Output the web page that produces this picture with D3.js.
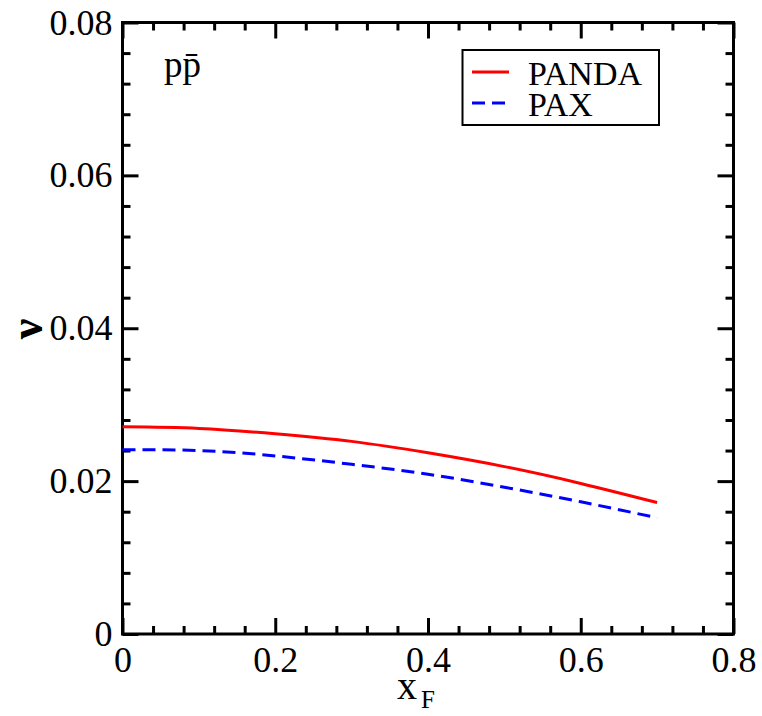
<!DOCTYPE html>
<html><head><meta charset="utf-8">
<script src="https://cdn.jsdelivr.net/npm/d3@7/dist/d3.min.js"></script>
<style>body{margin:0;background:#fff}svg{display:block}text{font-family:'Liberation Serif','Times New Roman',serif}</style>
</head><body>
<script>
const xF = [0, 0.1, 0.2, 0.3, 0.4, 0.5, 0.6, 0.7];
const panda = [0.0271, 0.0269, 0.0262, 0.0252, 0.0237, 0.0219, 0.0197, 0.0172];
const pax = [0.0241, 0.0240, 0.0233, 0.0222, 0.0209, 0.0192, 0.0173, 0.0152];
const xTicks = [0, 0.2, 0.4, 0.6, 0.8];
const xTickLabels = ["0", "0.2", "0.4", "0.6", "0.8"];
const yTicks = [0, 0.02, 0.04, 0.06, 0.08];
const yTickLabels = ["0", "0.02", "0.04", "0.06", "0.08"];
const seriesNames = ["PANDA", "PAX"];

const W = 762, H = 716;
const L = 122.5, R = 733.5, T = 22.5, B = 634;
const svg = d3.select("body").append("svg").attr("width", W).attr("height", H);
const x = d3.scaleLinear().domain([0, 0.8]).range([L, R]);
const y = d3.scaleLinear().domain([0, 0.08]).range([B, T]);
const font = "'Liberation Serif','Times New Roman',serif";

const xMinor = d3.range(0, 0.8001, 0.04).filter(v => Math.abs(v / 0.2 - Math.round(v / 0.2)) > 1e-6);
const yMinor = d3.range(0, 0.08001, 0.004).filter(v => Math.abs(v / 0.02 - Math.round(v / 0.02)) > 1e-6);

function styleAxis(g) {
  g.attr("font-family", font).attr("font-size", 36);
  g.select(".domain").remove();
  g.selectAll(".tick line").attr("stroke", "#000").attr("stroke-width", 3);
  g.selectAll(".tick text").style("font-family", font).style("font-size", "36px").attr("fill", "#000");
}
// bottom
svg.append("g").attr("transform", `translate(0,${B})`)
  .call(d3.axisBottom(x).tickValues(xTicks).tickSize(-16).tickPadding(12).tickFormat((d, i) => xTickLabels[i]))
  .call(styleAxis);
svg.append("g").attr("transform", `translate(0,${B})`)
  .call(d3.axisBottom(x).tickValues(xMinor).tickSize(-8).tickFormat(""))
  .call(styleAxis);
// top
svg.append("g").attr("transform", `translate(0,${T})`)
  .call(d3.axisTop(x).tickValues(xTicks).tickSize(-16).tickFormat(""))
  .call(styleAxis);
svg.append("g").attr("transform", `translate(0,${T})`)
  .call(d3.axisTop(x).tickValues(xMinor).tickSize(-8).tickFormat(""))
  .call(styleAxis);
// left
svg.append("g").attr("transform", `translate(${L},0)`)
  .call(d3.axisLeft(y).tickValues(yTicks).tickSize(-16).tickPadding(10).tickFormat((d, i) => yTickLabels[i]))
  .call(styleAxis);
svg.append("g").attr("transform", `translate(${L},0)`)
  .call(d3.axisLeft(y).tickValues(yMinor).tickSize(-8).tickFormat(""))
  .call(styleAxis);
// right
svg.append("g").attr("transform", `translate(${R},0)`)
  .call(d3.axisRight(y).tickValues(yTicks).tickSize(-16).tickFormat(""))
  .call(styleAxis);
svg.append("g").attr("transform", `translate(${R},0)`)
  .call(d3.axisRight(y).tickValues(yMinor).tickSize(-8).tickFormat(""))
  .call(styleAxis);

// frame
svg.append("rect").attr("x", L).attr("y", T).attr("width", R - L).attr("height", B - T)
  .attr("fill", "none").attr("stroke", "#000").attr("stroke-width", 3);

// curves
const line = d3.line().x(d => x(d[0])).y(d => y(d[1])).curve(d3.curveNatural);
svg.append("path").datum(xF.map((v, i) => [v, panda[i]])).attr("d", line)
  .attr("fill", "none").attr("stroke", "#ff0000").attr("stroke-width", 3);
svg.append("path").datum(xF.map((v, i) => [v, pax[i]])).attr("d", line)
  .attr("fill", "none").attr("stroke", "#0000ff").attr("stroke-width", 3).attr("stroke-dasharray", "13,7");

// axis titles
svg.append("text").attr("x", 397).attr("y", 699).attr("font-size", 40).text("x");
svg.append("text").attr("x", 421).attr("y", 708).attr("font-size", 25).text("F");
svg.append("text").attr("transform", "translate(42,329) rotate(-90)").attr("text-anchor", "middle")
  .attr("font-size", 46).attr("font-weight", "bold").text("ν");

// label
svg.append("text").attr("x", 164).attr("y", 77).attr("font-size", 37).text("pp̄");

// legend
const lg = svg.append("g");
lg.append("rect").attr("x", 462.5).attr("y", 50).attr("width", 196.5).attr("height", 75)
  .attr("fill", "#fff").attr("stroke", "#000").attr("stroke-width", 2);
const colors = ["#ff0000", "#0000ff"], dashes = [null, "13,7"];
seriesNames.forEach((n, i) => {
  const yy = 72 + i * 31;
  lg.append("line").attr("x1", 472).attr("x2", 509).attr("y1", yy).attr("y2", yy)
    .attr("stroke", colors[i]).attr("stroke-width", 3).attr("stroke-dasharray", dashes[i]);
  lg.append("text").attr("x", 528).attr("y", yy + 13).attr("font-size", 34).text(n);
});
</script>
</body></html>
